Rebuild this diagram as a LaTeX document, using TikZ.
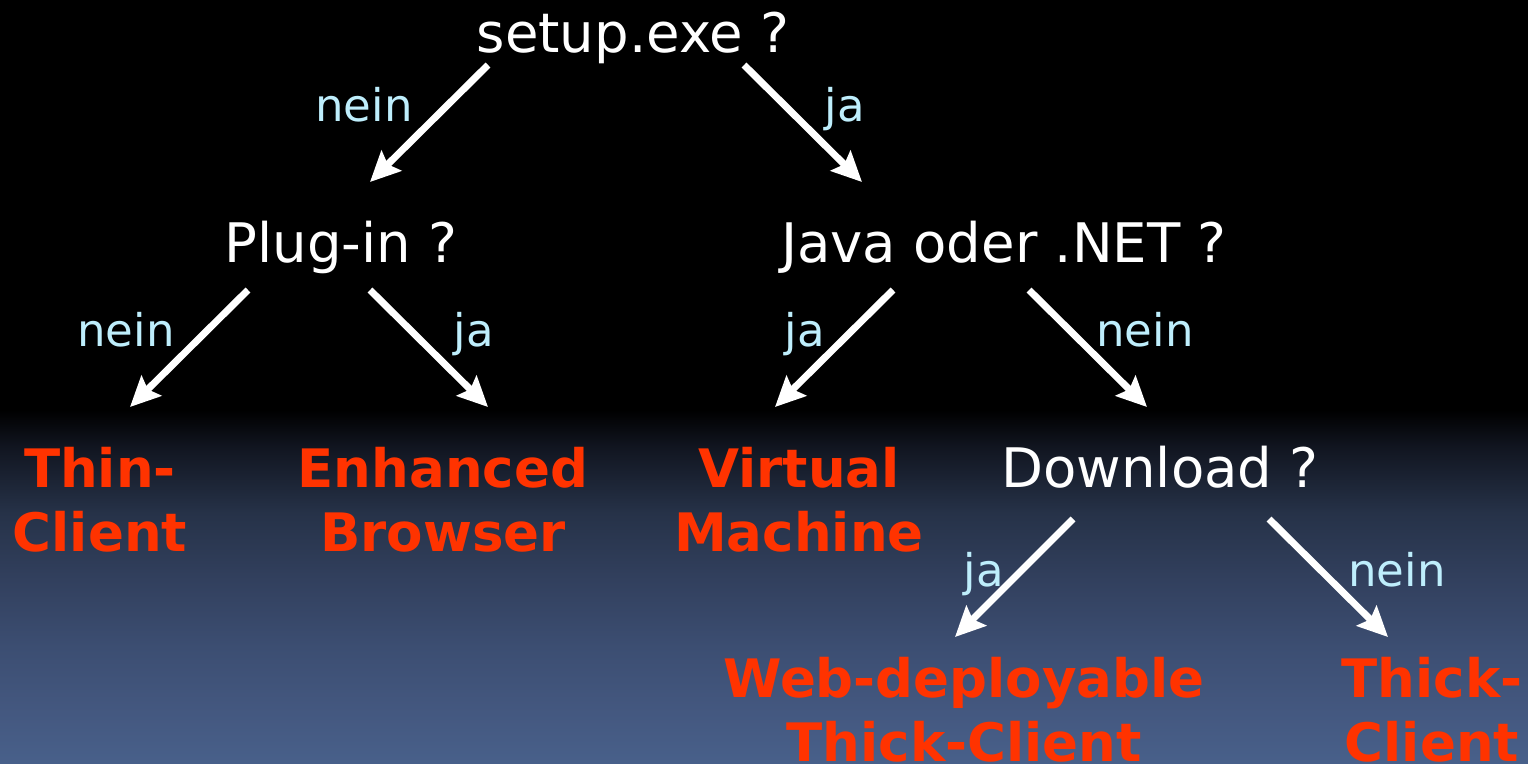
\documentclass[tikz,border=0pt]{standalone}
\usepackage{fontspec}
\setmainfont{DejaVu Sans}
\usetikzlibrary{arrows.meta}
\definecolor{lblcyan}{RGB}{190,238,252}
\definecolor{ansred}{RGB}{255,51,0}
\definecolor{g0}{RGB}{72,96,138}
\definecolor{g1}{RGB}{68,88,128}
\definecolor{g2}{RGB}{60,78,114}
\definecolor{g3}{RGB}{50,64,94}
\definecolor{g4}{RGB}{38,50,72}
\definecolor{g5}{RGB}{17,21,32}
\definecolor{g6}{RGB}{0,0,0}
\pgfdeclareverticalshading{bgsh}{100bp}{color(0bp)=(g0); color(25bp)=(g0); color(32.1bp)=(g1); color(41.4bp)=(g2); color(50.9bp)=(g3); color(60.4bp)=(g4); color(69.8bp)=(g5); color(75bp)=(g6); color(100bp)=(g6)}
\tikzset{
  question/.style={text=white,font=\fontsize{54.5}{64}\selectfont,inner sep=0pt,anchor=base},
  lbl/.style={text=lblcyan,font=\fontsize{45}{54}\selectfont,inner sep=0pt,anchor=base},
  answer/.style={text=ansred,font=\fontsize{53}{64}\selectfont\bfseries,inner sep=0pt,anchor=base,align=center},
  arr/.style={white,line width=7pt,-{Stealth[length=30pt,width=28pt,inset=5pt]}}
}
\begin{document}
\begin{tikzpicture}[x=1pt,y=-1pt]
\useasboundingbox (0,0) rectangle (1528,763);
\fill[black] (0,0) rectangle (1528,411);
\shade[shading=bgsh] (0,410) rectangle (1528,763);

% question nodes
\node[question] (setup) at (633,52) {setup.exe ?};
\node[question] (plugin) at (341,262) {Plug-in ?};
\node[question] (java) at (1004,262) {Java oder .NET ?};
\node[question] (download) at (1160,487) {Download ?};

% answer nodes (base = last line)
\node[answer] (thin) at (100,551) {Thin-\\Client};
\node[answer] (enh) at (443,551) {Enhanced\\Browser};
\node[answer] (vm) at (799,551) {Virtual\\Machine};
\node[answer] (web) at (964,761) {Web-deployable\\Thick-Client};
\node[answer] (thick) at (1432,761) {Thick-\\Client};

% connector end points
\coordinate (s1) at (488,65);  \coordinate (e1) at (370,182);
\coordinate (s2) at (744,65);  \coordinate (e2) at (862,182);
\coordinate (s3) at (248,290); \coordinate (e3) at (130,407);
\coordinate (s4) at (370,290); \coordinate (e4) at (488,407);
\coordinate (s5) at (893,290); \coordinate (e5) at (775,407);
\coordinate (s6) at (1029,290);\coordinate (e6) at (1147,407);
\coordinate (s7) at (1073,519);\coordinate (e7) at (955,637);
\coordinate (s8) at (1269,519);\coordinate (e8) at (1388,637);

\draw[arr] (s1) -- (e1);
\draw[arr] (s2) -- (e2);
\draw[arr] (s3) -- (e3);
\draw[arr] (s4) -- (e4);
\draw[arr] (s5) -- (e5);
\draw[arr] (s6) -- (e6);
\draw[arr] (s7) -- (e7);
\draw[arr] (s8) -- (e8);

% labels
\node[lbl] (l1) at (364,121) {nein};
\node[lbl] (l2) at (845,121) {ja};
\node[lbl] (l3) at (126,346) {nein};
\node[lbl] (l4) at (474,346) {ja};
\node[lbl] (l5) at (805,346) {ja};
\node[lbl] (l6) at (1145,346) {nein};
\node[lbl] (l7) at (984,586) {ja};
\node[lbl] (l8) at (1397,586) {nein};
\end{tikzpicture}
\end{document}
